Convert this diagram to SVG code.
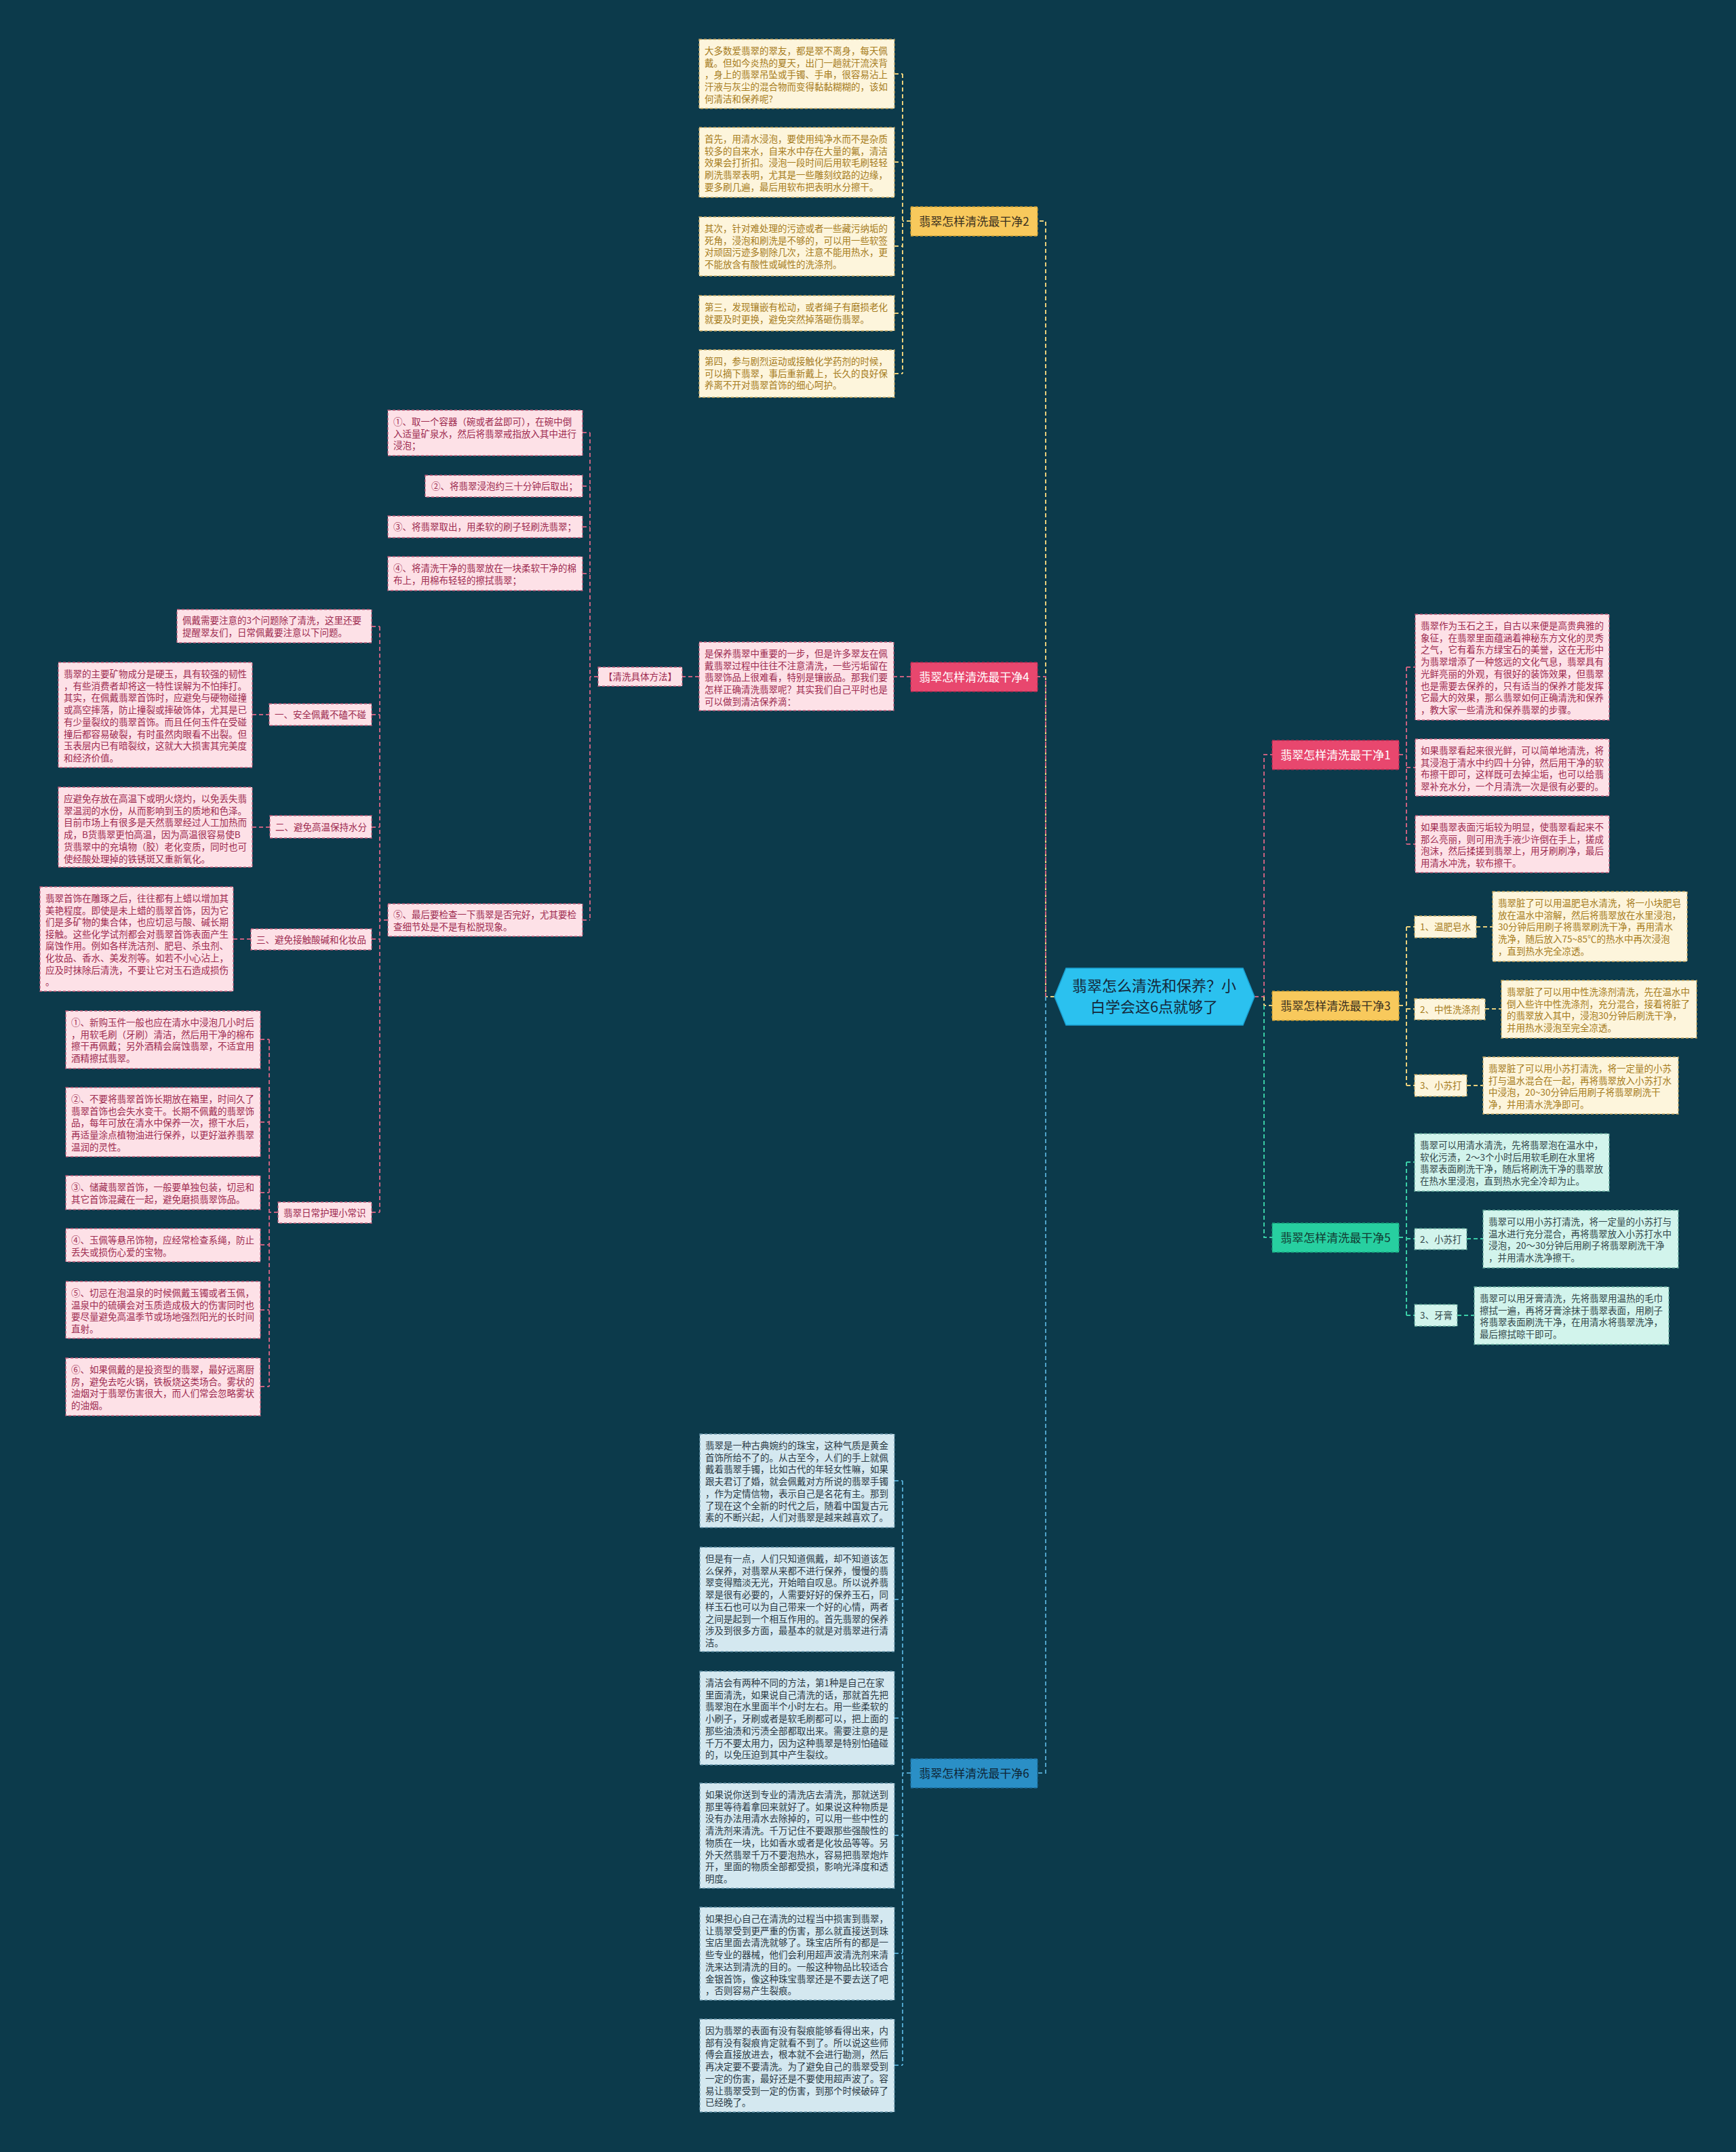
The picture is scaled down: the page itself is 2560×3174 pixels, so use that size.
<svg xmlns="http://www.w3.org/2000/svg" width="2560" height="3174" viewBox="0 0 2560 3174">
<style>
text{font-family:"Noto Sans CJK SC","Noto Sans",sans-serif;font-size:13.5px}
.ly rect{fill:#fdf5dc;stroke:#c7a860;stroke-width:1.3;stroke-dasharray:4 3}
.ly text{fill:#a67c1c}
.lp rect{fill:#fde1e7;stroke:#c05b7a;stroke-width:1.3;stroke-dasharray:4 3}
.lp text{fill:#9e2b50}
.lg rect{fill:#d2f4ec;stroke:#62a899;stroke-width:1.3;stroke-dasharray:4 3}
.lg text{fill:#33474a}
.lb rect{fill:#d4e8f0;stroke:#6594aa;stroke-width:1.3;stroke-dasharray:4 3}
.lb text{fill:#2b3a45}
.br text{font-size:17px;text-anchor:middle}
.br rect{stroke-width:1.3;stroke-dasharray:4 3}
.by rect{fill:#f8c95c;stroke:#c89a30}.by text{fill:#3a3020}
.bp rect{fill:#e8476e;stroke:#b02a50}.bp text{fill:#ffffff}
.bg rect{fill:#27cfa0;stroke:#179a78}.bg text{fill:#123a32}
.bb rect{fill:#2a8fc6;stroke:#1a6a98}.bb text{fill:#0e2535}
#connectors path{fill:none;stroke-width:2;stroke-dasharray:6 4}
.cy{stroke:#e9cf7c}.cp{stroke:#c8617f}.cg{stroke:#3acda6}.cb{stroke:#4fa3c9}
</style>
<rect width="2560" height="3174" fill="#0c3a4b"/>

<g id="connectors">
<!-- root left -->
<path class="cy" d="M1555,1470 H1542 V326 H1530"/>
<path class="cp" d="M1542,1470 V998 H1530"/>
<path class="cb" d="M1542,1470 V2615 H1530"/>
<!-- root right -->
<path class="cp" d="M1850,1470 H1864 V1113 H1876"/>
<path class="cy" d="M1864,1470 V1483 H1876"/>
<path class="cg" d="M1864,1483 V1825 H1876"/>
<!-- branch 2 -->
<path class="cy" d="M1343,326 H1331 M1331,109 V551 M1319,109 H1331 M1319,239 H1331 M1319,363 H1331 M1319,462 H1331 M1319,551 H1331"/>
<!-- branch 4 -->
<path class="cp" d="M1343,998 H1318 M1031,998 H1006 M882,998 H870 M870,638 V1357 M859,638 H870 M859,717 H870 M859,777 H870 M859,846 H870 M859,1357 H870"/>
<path class="cp" d="M572,1357 H560 M560,924 V1788 M548,924 H560 M548,1054 H560 M548,1220 H560 M548,1385 H560 M548,1788 H560"/>
<path class="cp" d="M372,1054 H397 M372,1220 H398 M344,1385 H370"/>
<path class="cp" d="M410,1788 H397 M397,1533 V2045 M384,1533 H397 M384,1655 H397 M384,1759 H397 M384,1836 H397 M384,1932 H397 M384,2045 H397"/>
<!-- branch 6 -->
<path class="cb" d="M1343,2615 H1331 M1331,2184 V3046 M1319,2184 H1331 M1319,2359 H1331 M1319,2534 H1331 M1319,2707 H1331 M1319,2881 H1331 M1319,3046 H1331"/>
<!-- branch 1 -->
<path class="cp" d="M2063,1113 H2074 M2074,984 V1245 M2074,984 H2087 M2074,1132 H2087 M2074,1245 H2087"/>
<!-- branch 3 -->
<path class="cy" d="M2063,1483 H2074 M2074,1367 V1601 M2074,1367 H2086 M2074,1488 H2086 M2074,1601 H2086 M2177,1367 H2201 M2190,1488 H2214 M2163,1601 H2187"/>
<!-- branch 5 -->
<path class="cg" d="M2063,1825 H2074 M2074,1714 V1940 M2074,1714 H2086 M2074,1827 H2086 M2074,1940 H2086 M2163,1827 H2187 M2149,1940 H2174"/>
</g>

<g id="root">
<path d="M1555,1470 L1572,1428 L1833,1428 L1850,1470 L1833,1512 L1572,1512 Z" fill="#2bc1ef" stroke="#1a9fd0" stroke-width="1.5"/>
<text x="1702" y="1462" text-anchor="middle" style="font-size:22px;fill:#14283a">翡翠怎么清洗和保养？小</text>
<text x="1702" y="1493" text-anchor="middle" style="font-size:22px;fill:#14283a">白学会这6点就够了</text>
</g>

<!-- branch 2 -->
<g id="b2" class="br by"><rect x="1343" y="305" width="187" height="43"/><text x="1436.5" y="332.5">翡翠怎样清洗最干净2</text></g>
<g id="l2a" class="ly"><rect x="1031" y="58" width="288" height="102"/><text x="1039" y="80"><tspan x="1039">大多数爱翡翠的翠友，都是翠不离身，每天佩</tspan><tspan x="1039" dy="17.7">戴。但如今炎热的夏天，出门一趟就汗流浃背</tspan><tspan x="1039" dy="17.7">，身上的翡翠吊坠或手镯、手串，很容易沾上</tspan><tspan x="1039" dy="17.7">汗液与灰尘的混合物而变得黏黏糊糊的，该如</tspan><tspan x="1039" dy="17.7">何清洁和保养呢?</tspan></text></g>
<g id="l2b" class="ly"><rect x="1031" y="188" width="288" height="103"/><text x="1039" y="210"><tspan x="1039">首先，用清水浸泡，要使用纯净水而不是杂质</tspan><tspan x="1039" dy="17.7">较多的自来水，自来水中存在大量的氟，清洁</tspan><tspan x="1039" dy="17.7">效果会打折扣。浸泡一段时间后用软毛刷轻轻</tspan><tspan x="1039" dy="17.7">刷洗翡翠表明，尤其是一些雕刻纹路的边缘，</tspan><tspan x="1039" dy="17.7">要多刷几遍，最后用软布把表明水分擦干。</tspan></text></g>
<g id="l2c" class="ly"><rect x="1031" y="320" width="288" height="87"/><text x="1039" y="342"><tspan x="1039">其次，针对难处理的污迹或者一些藏污纳垢的</tspan><tspan x="1039" dy="17.7">死角，浸泡和刷洗是不够的，可以用一些软签</tspan><tspan x="1039" dy="17.7">对顽固污迹多剔除几次，注意不能用热水，更</tspan><tspan x="1039" dy="17.7">不能放含有酸性或碱性的洗涤剂。</tspan></text></g>
<g id="l2d" class="ly"><rect x="1031" y="436" width="288" height="52"/><text x="1039" y="458"><tspan x="1039">第三，发现镶嵌有松动，或者绳子有磨损老化</tspan><tspan x="1039" dy="17.7">就要及时更换，避免突然掉落砸伤翡翠。</tspan></text></g>
<g id="l2e" class="ly"><rect x="1031" y="516" width="288" height="70"/><text x="1039" y="538"><tspan x="1039">第四，参与剧烈运动或接触化学药剂的时候，</tspan><tspan x="1039" dy="17.7">可以摘下翡翠，事后重新戴上，长久的良好保</tspan><tspan x="1039" dy="17.7">养离不开对翡翠首饰的细心呵护。</tspan></text></g>

<!-- branch 4 -->
<g id="b4" class="br bp"><rect x="1343" y="977" width="187" height="43"/><text x="1436.5" y="1004.5">翡翠怎样清洗最干净4</text></g>
<g id="t4" class="lp"><rect x="1031" y="947" width="287" height="101"/><text x="1039" y="969"><tspan x="1039">是保养翡翠中重要的一步，但是许多翠友在佩</tspan><tspan x="1039" dy="17.7">戴翡翠过程中往往不注意清洗，一些污垢留在</tspan><tspan x="1039" dy="17.7">翡翠饰品上很难看，特别是镶嵌品。那我们要</tspan><tspan x="1039" dy="17.7">怎样正确清洗翡翠呢？其实我们自己平时也是</tspan><tspan x="1039" dy="17.7">可以做到清洁保养滴：</tspan></text></g>
<g id="method" class="lp"><rect x="882" y="984" width="124" height="28"/><text x="890" y="1003">【清洗具体方法】</text></g>
<g id="s1" class="lp"><rect x="572" y="605" width="287" height="67"/><text x="580" y="627"><tspan x="580">①、取一个容器（碗或者盆即可），在碗中倒</tspan><tspan x="580" dy="17.7">入适量矿泉水，然后将翡翠戒指放入其中进行</tspan><tspan x="580" dy="17.7">浸泡；</tspan></text></g>
<g id="s2" class="lp"><rect x="627" y="701" width="232" height="32"/><text x="636" y="722">②、将翡翠浸泡约三十分钟后取出；</text></g>
<g id="s3" class="lp"><rect x="572" y="761" width="287" height="32"/><text x="580" y="782">③、将翡翠取出，用柔软的刷子轻刷洗翡翠；</text></g>
<g id="s4" class="lp"><rect x="572" y="821" width="287" height="50"/><text x="580" y="843"><tspan x="580">④、将清洗干净的翡翠放在一块柔软干净的棉</tspan><tspan x="580" dy="17.7">布上，用棉布轻轻的擦拭翡翠；</tspan></text></g>
<g id="s5" class="lp"><rect x="572" y="1333" width="287" height="48"/><text x="580" y="1354"><tspan x="580">⑤、最后要检查一下翡翠是否完好，尤其要检</tspan><tspan x="580" dy="17.7">查细节处是不是有松脱现象。</tspan></text></g>
<g id="wear" class="lp"><rect x="261" y="899" width="287" height="49"/><text x="269" y="920"><tspan x="269">佩戴需要注意的3个问题除了清洗，这里还要</tspan><tspan x="269" dy="17.7">提醒翠友们，日常佩戴要注意以下问题。</tspan></text></g>
<g id="w1" class="lp"><rect x="397" y="1038" width="151" height="32"/><text x="405" y="1059">一、安全佩戴不磕不碰</text></g>
<g id="w1t" class="lp"><rect x="86" y="977" width="286" height="155"/><text x="94" y="999"><tspan x="94">翡翠的主要矿物成分是硬玉，具有较强的韧性</tspan><tspan x="94" dy="17.7">，有些消费者却将这一特性误解为不怕摔打。</tspan><tspan x="94" dy="17.7">其实，在佩戴翡翠首饰时，应避免与硬物碰撞</tspan><tspan x="94" dy="17.7">或高空摔落，防止撞裂或摔破饰体，尤其是已</tspan><tspan x="94" dy="17.7">有少量裂纹的翡翠首饰。而且任何玉件在受碰</tspan><tspan x="94" dy="17.7">撞后都容易破裂，有时虽然肉眼看不出裂。但</tspan><tspan x="94" dy="17.7">玉表层内已有暗裂纹，这就大大损害其完美度</tspan><tspan x="94" dy="17.7">和经济价值。</tspan></text></g>
<g id="w2" class="lp"><rect x="398" y="1203" width="150" height="33"/><text x="406" y="1225">二、避免高温保持水分</text></g>
<g id="w2t" class="lp"><rect x="86" y="1161" width="286" height="118"/><text x="94" y="1183"><tspan x="94">应避免存放在高温下或明火烧灼，以免丢失翡</tspan><tspan x="94" dy="17.7">翠温润的水份，从而影响到玉的质地和色泽。</tspan><tspan x="94" dy="17.7">目前市场上有很多是天然翡翠经过人工加热而</tspan><tspan x="94" dy="17.7">成，B货翡翠更怕高温，因为高温很容易使B</tspan><tspan x="94" dy="17.7">货翡翠中的充填物（胶）老化变质，同时也可</tspan><tspan x="94" dy="17.7">使经酸处理掉的铁锈斑又重新氧化。</tspan></text></g>
<g id="w3" class="lp"><rect x="370" y="1370" width="178" height="31"/><text x="378" y="1391">三、避免接触酸碱和化妆品</text></g>
<g id="w3t" class="lp"><rect x="59" y="1308" width="285" height="154"/><text x="67" y="1330"><tspan x="67">翡翠首饰在雕琢之后，往往都有上蜡以增加其</tspan><tspan x="67" dy="17.6">美艳程度。即使是未上蜡的翡翠首饰，因为它</tspan><tspan x="67" dy="17.6">们是多矿物的集合体，也应切忌与酸、碱长期</tspan><tspan x="67" dy="17.6">接触。这些化学试剂都会对翡翠首饰表面产生</tspan><tspan x="67" dy="17.6">腐蚀作用。例如各样洗洁剂、肥皂、杀虫剂、</tspan><tspan x="67" dy="17.6">化妆品、香水、美发剂等。如若不小心沾上，</tspan><tspan x="67" dy="17.6">应及时抹除后清洗，不要让它对玉石造成损伤</tspan><tspan x="67" dy="17.6">。</tspan></text></g>
<g id="care" class="lp"><rect x="410" y="1773" width="138" height="31"/><text x="418" y="1794">翡翠日常护理小常识</text></g>
<g id="c1" class="lp"><rect x="97" y="1491" width="287" height="85"/><text x="105" y="1513"><tspan x="105">①、新购玉件一般也应在清水中浸泡几小时后</tspan><tspan x="105" dy="17.7">，用软毛刷（牙刷）清洁，然后用干净的棉布</tspan><tspan x="105" dy="17.7">擦干再佩戴；另外酒精会腐蚀翡翠，不适宜用</tspan><tspan x="105" dy="17.7">酒精擦拭翡翠。</tspan></text></g>
<g id="c2" class="lp"><rect x="97" y="1604" width="287" height="102"/><text x="105" y="1626"><tspan x="105">②、不要将翡翠首饰长期放在箱里，时间久了</tspan><tspan x="105" dy="17.7">翡翠首饰也会失水变干。长期不佩戴的翡翠饰</tspan><tspan x="105" dy="17.7">品，每年可放在清水中保养一次，擦干水后，</tspan><tspan x="105" dy="17.7">再适量涂点植物油进行保养，以更好滋养翡翠</tspan><tspan x="105" dy="17.7">温润的灵性。</tspan></text></g>
<g id="c3" class="lp"><rect x="97" y="1734" width="287" height="50"/><text x="105" y="1756"><tspan x="105">③、储藏翡翠首饰，一般要单独包装，切忌和</tspan><tspan x="105" dy="17.7">其它首饰混藏在一起，避免磨损翡翠饰品。</tspan></text></g>
<g id="c4" class="lp"><rect x="97" y="1812" width="287" height="49"/><text x="105" y="1834"><tspan x="105">④、玉佩等悬吊饰物，应经常检查系绳，防止</tspan><tspan x="105" dy="17.7">丢失或损伤心爱的宝物。</tspan></text></g>
<g id="c5" class="lp"><rect x="97" y="1890" width="287" height="84"/><text x="105" y="1912"><tspan x="105">⑤、切忌在泡温泉的时候佩戴玉镯或者玉佩，</tspan><tspan x="105" dy="17.7">温泉中的硫磺会对玉质造成极大的伤害同时也</tspan><tspan x="105" dy="17.7">要尽量避免高温季节或场地强烈阳光的长时间</tspan><tspan x="105" dy="17.7">直射。</tspan></text></g>
<g id="c6" class="lp"><rect x="97" y="2003" width="287" height="85"/><text x="105" y="2025"><tspan x="105">⑥、如果佩戴的是投资型的翡翠，最好远离厨</tspan><tspan x="105" dy="17.7">房，避免去吃火锅，铁板烧这类场合。雾状的</tspan><tspan x="105" dy="17.7">油烟对于翡翠伤害很大，而人们常会忽略雾状</tspan><tspan x="105" dy="17.7">的油烟。</tspan></text></g>

<!-- branch 6 -->
<g id="b6" class="br bb"><rect x="1343" y="2594" width="187" height="43"/><text x="1436.5" y="2621.5">翡翠怎样清洗最干净6</text></g>
<g id="l6a" class="lb"><rect x="1032" y="2115" width="287" height="138"/><text x="1040" y="2137"><tspan x="1040">翡翠是一种古典婉约的珠宝，这种气质是黄金</tspan><tspan x="1040" dy="17.7">首饰所给不了的。从古至今，人们的手上就佩</tspan><tspan x="1040" dy="17.7">戴着翡翠手镯，比如古代的年轻女性嘛，如果</tspan><tspan x="1040" dy="17.7">跟夫君订了婚，就会佩戴对方所说的翡翠手镯</tspan><tspan x="1040" dy="17.7">，作为定情信物，表示自己是名花有主。那到</tspan><tspan x="1040" dy="17.7">了现在这个全新的时代之后，随着中国复古元</tspan><tspan x="1040" dy="17.7">素的不断兴起，人们对翡翠是越来越喜欢了。</tspan></text></g>
<g id="l6b" class="lb"><rect x="1032" y="2282" width="287" height="154"/><text x="1040" y="2304"><tspan x="1040">但是有一点，人们只知道佩戴，却不知道该怎</tspan><tspan x="1040" dy="17.7">么保养，对翡翠从来都不进行保养，慢慢的翡</tspan><tspan x="1040" dy="17.7">翠变得黯淡无光，开始暗自叹息。所以说养翡</tspan><tspan x="1040" dy="17.7">翠是很有必要的，人需要好好的保养玉石，同</tspan><tspan x="1040" dy="17.7">样玉石也可以为自己带来一个好的心情，两者</tspan><tspan x="1040" dy="17.7">之间是起到一个相互作用的。首先翡翠的保养</tspan><tspan x="1040" dy="17.7">涉及到很多方面，最基本的就是对翡翠进行清</tspan><tspan x="1040" dy="17.7">洁。</tspan></text></g>
<g id="l6c" class="lb"><rect x="1032" y="2465" width="287" height="138"/><text x="1040" y="2487"><tspan x="1040">清洁会有两种不同的方法，第1种是自己在家</tspan><tspan x="1040" dy="17.7">里面清洗，如果说自己清洗的话，那就首先把</tspan><tspan x="1040" dy="17.7">翡翠泡在水里面半个小时左右。用一些柔软的</tspan><tspan x="1040" dy="17.7">小刷子，牙刷或者是软毛刷都可以，把上面的</tspan><tspan x="1040" dy="17.7">那些油渍和污渍全部都取出来。需要注意的是</tspan><tspan x="1040" dy="17.7">千万不要太用力，因为这种翡翠是特别怕磕碰</tspan><tspan x="1040" dy="17.7">的，以免压迫到其中产生裂纹。</tspan></text></g>
<g id="l6d" class="lb"><rect x="1032" y="2630" width="287" height="155"/><text x="1040" y="2652"><tspan x="1040">如果说你送到专业的清洗店去清洗，那就送到</tspan><tspan x="1040" dy="17.7">那里等待着拿回来就好了。如果说这种物质是</tspan><tspan x="1040" dy="17.7">没有办法用清水去除掉的，可以用一些中性的</tspan><tspan x="1040" dy="17.7">清洗剂来清洗。千万记住不要跟那些强酸性的</tspan><tspan x="1040" dy="17.7">物质在一块，比如香水或者是化妆品等等。另</tspan><tspan x="1040" dy="17.7">外天然翡翠千万不要泡热水，容易把翡翠炮炸</tspan><tspan x="1040" dy="17.7">开，里面的物质全部都受损，影响光泽度和透</tspan><tspan x="1040" dy="17.7">明度。</tspan></text></g>
<g id="l6e" class="lb"><rect x="1032" y="2813" width="287" height="137"/><text x="1040" y="2835"><tspan x="1040">如果担心自己在清洗的过程当中损害到翡翠，</tspan><tspan x="1040" dy="17.7">让翡翠受到更严重的伤害，那么就直接送到珠</tspan><tspan x="1040" dy="17.7">宝店里面去清洗就够了。珠宝店所有的都是一</tspan><tspan x="1040" dy="17.7">些专业的器械，他们会利用超声波清洗剂来清</tspan><tspan x="1040" dy="17.7">洗来达到清洗的目的。一般这种物品比较适合</tspan><tspan x="1040" dy="17.7">金银首饰，像这种珠宝翡翠还是不要去送了吧</tspan><tspan x="1040" dy="17.7">，否则容易产生裂痕。</tspan></text></g>
<g id="l6f" class="lb"><rect x="1032" y="2978" width="287" height="137"/><text x="1040" y="3000"><tspan x="1040">因为翡翠的表面有没有裂痕能够看得出来，内</tspan><tspan x="1040" dy="17.7">部有没有裂痕肯定就看不到了。所以说这些师</tspan><tspan x="1040" dy="17.7">傅会直接放进去，根本就不会进行勘测，然后</tspan><tspan x="1040" dy="17.7">再决定要不要清洗。为了避免自己的翡翠受到</tspan><tspan x="1040" dy="17.7">一定的伤害，最好还是不要使用超声波了。容</tspan><tspan x="1040" dy="17.7">易让翡翠受到一定的伤害，到那个时候破碎了</tspan><tspan x="1040" dy="17.7">已经晚了。</tspan></text></g>

<!-- branch 1 -->
<g id="b1" class="br bp"><rect x="1876" y="1092" width="187" height="43"/><text x="1969.5" y="1119.5">翡翠怎样清洗最干净1</text></g>
<g id="l1a" class="lp"><rect x="2087" y="906" width="286" height="156"/><text x="2095" y="928"><tspan x="2095">翡翠作为玉石之王，自古以来便是高贵典雅的</tspan><tspan x="2095" dy="17.7">象征，在翡翠里面蕴涵着神秘东方文化的灵秀</tspan><tspan x="2095" dy="17.7">之气，它有着东方绿宝石的美誉，这在无形中</tspan><tspan x="2095" dy="17.7">为翡翠增添了一种悠远的文化气息，翡翠具有</tspan><tspan x="2095" dy="17.7">光鲜亮丽的外观，有很好的装饰效果，但翡翠</tspan><tspan x="2095" dy="17.7">也是需要去保养的，只有适当的保养才能发挥</tspan><tspan x="2095" dy="17.7">它最大的效果，那么翡翠如何正确清洗和保养</tspan><tspan x="2095" dy="17.7">，教大家一些清洗和保养翡翠的步骤。</tspan></text></g>
<g id="l1b" class="lp"><rect x="2087" y="1090" width="286" height="84"/><text x="2095" y="1112"><tspan x="2095">如果翡翠看起来很光鲜，可以简单地清洗，将</tspan><tspan x="2095" dy="17.7">其浸泡于清水中约四十分钟，然后用干净的软</tspan><tspan x="2095" dy="17.7">布擦干即可，这样既可去掉尘垢，也可以给翡</tspan><tspan x="2095" dy="17.7">翠补充水分，一个月清洗一次是很有必要的。</tspan></text></g>
<g id="l1c" class="lp"><rect x="2087" y="1203" width="286" height="84"/><text x="2095" y="1225"><tspan x="2095">如果翡翠表面污垢较为明显，使翡翠看起来不</tspan><tspan x="2095" dy="17.7">那么亮丽，则可用洗手液少许倒在手上，搓成</tspan><tspan x="2095" dy="17.7">泡沫，然后揉搓到翡翠上，用牙刷刷净，最后</tspan><tspan x="2095" dy="17.7">用清水冲洗，软布擦干。</tspan></text></g>

<!-- branch 3 -->
<g id="b3" class="br by"><rect x="1876" y="1462" width="187" height="43"/><text x="1969.5" y="1489.5">翡翠怎样清洗最干净3</text></g>
<g id="s31" class="ly"><rect x="2086" y="1351" width="91" height="32"/><text x="2094" y="1372">1、温肥皂水</text></g>
<g id="l3a" class="ly"><rect x="2201" y="1315" width="287" height="103"/><text x="2209" y="1337"><tspan x="2209">翡翠脏了可以用温肥皂水清洗，将一小块肥皂</tspan><tspan x="2209" dy="17.7">放在温水中溶解，然后将翡翠放在水里浸泡，</tspan><tspan x="2209" dy="17.7">30分钟后用刷子将翡翠刷洗干净，再用清水</tspan><tspan x="2209" dy="17.7">洗净，随后放入75~85℃的热水中再次浸泡</tspan><tspan x="2209" dy="17.7">，直到热水完全凉透。</tspan></text></g>
<g id="s32" class="ly"><rect x="2086" y="1473" width="104" height="31"/><text x="2094" y="1494">2、中性洗涤剂</text></g>
<g id="l3b" class="ly"><rect x="2214" y="1446" width="288" height="85"/><text x="2222" y="1468"><tspan x="2222">翡翠脏了可以用中性洗涤剂清洗，先在温水中</tspan><tspan x="2222" dy="17.7">倒入些许中性洗涤剂，充分混合，接着将脏了</tspan><tspan x="2222" dy="17.7">的翡翠放入其中，浸泡30分钟后刷洗干净，</tspan><tspan x="2222" dy="17.7">并用热水浸泡至完全凉透。</tspan></text></g>
<g id="s33" class="ly"><rect x="2086" y="1585" width="77" height="32"/><text x="2094" y="1606">3、小苏打</text></g>
<g id="l3c" class="ly"><rect x="2187" y="1559" width="288" height="84"/><text x="2195" y="1581"><tspan x="2195">翡翠脏了可以用小苏打清洗，将一定量的小苏</tspan><tspan x="2195" dy="17.7">打与温水混合在一起，再将翡翠放入小苏打水</tspan><tspan x="2195" dy="17.7">中浸泡，20~30分钟后用刷子将翡翠刷洗干</tspan><tspan x="2195" dy="17.7">净，并用清水洗净即可。</tspan></text></g>

<!-- branch 5 -->
<g id="b5" class="br bg"><rect x="1876" y="1804" width="187" height="43"/><text x="1969.5" y="1831.5">翡翠怎样清洗最干净5</text></g>
<g id="l5a" class="lg"><rect x="2086" y="1672" width="287" height="85"/><text x="2094" y="1694"><tspan x="2094">翡翠可以用清水清洗，先将翡翠泡在温水中，</tspan><tspan x="2094" dy="17.7">软化污渍，2～3个小时后用软毛刷在水里将</tspan><tspan x="2094" dy="17.7">翡翠表面刷洗干净，随后将刷洗干净的翡翠放</tspan><tspan x="2094" dy="17.7">在热水里浸泡，直到热水完全冷却为止。</tspan></text></g>
<g id="s52" class="lg"><rect x="2086" y="1812" width="77" height="31"/><text x="2094" y="1833">2、小苏打</text></g>
<g id="l5b" class="lg"><rect x="2187" y="1785" width="288" height="85"/><text x="2195" y="1807"><tspan x="2195">翡翠可以用小苏打清洗，将一定量的小苏打与</tspan><tspan x="2195" dy="17.7">温水进行充分混合，再将翡翠放入小苏打水中</tspan><tspan x="2195" dy="17.7">浸泡，20～30分钟后用刷子将翡翠刷洗干净</tspan><tspan x="2195" dy="17.7">，并用清水洗净擦干。</tspan></text></g>
<g id="s53" class="lg"><rect x="2086" y="1924" width="63" height="32"/><text x="2094" y="1945">3、牙膏</text></g>
<g id="l5c" class="lg"><rect x="2174" y="1898" width="287" height="85"/><text x="2182" y="1920"><tspan x="2182">翡翠可以用牙膏清洗，先将翡翠用温热的毛巾</tspan><tspan x="2182" dy="17.7">擦拭一遍，再将牙膏涂抹于翡翠表面，用刷子</tspan><tspan x="2182" dy="17.7">将翡翠表面刷洗干净，在用清水将翡翠洗净，</tspan><tspan x="2182" dy="17.7">最后擦拭晾干即可。</tspan></text></g>
</svg>
